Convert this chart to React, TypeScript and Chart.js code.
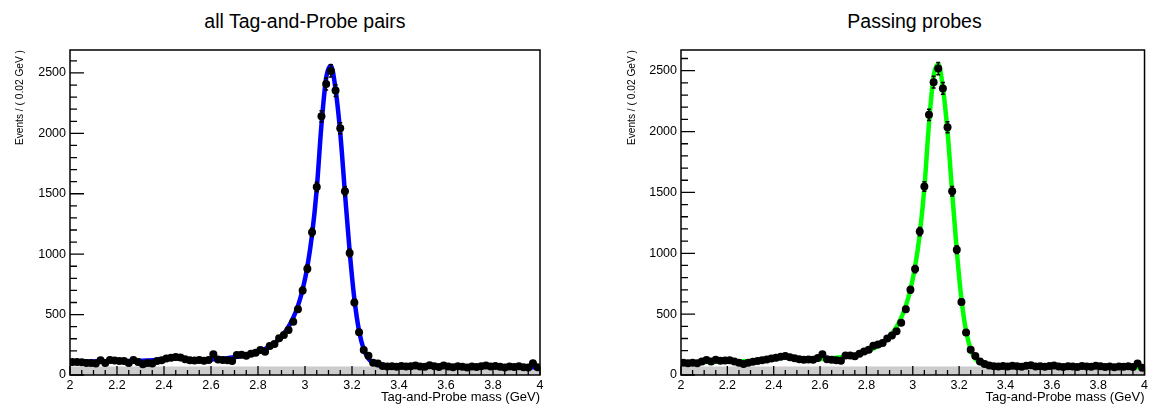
import React, { useEffect, useRef } from "react";
import { Chart, registerables } from "chart.js";

Chart.register(...registerables);

const FONT = "'Liberation Sans', Arial, Helvetica, sans-serif";

// Bin centres (GeV), 0.02 GeV bins from 2 to 4
const massBins = [
  2.01, 2.03, 2.05, 2.07, 2.09, 2.11, 2.13, 2.15, 2.17, 2.19,
  2.21, 2.23, 2.25, 2.27, 2.29, 2.31, 2.33, 2.35, 2.37, 2.39,
  2.41, 2.43, 2.45, 2.47, 2.49, 2.51, 2.53, 2.55, 2.57, 2.59,
  2.61, 2.63, 2.65, 2.67, 2.69, 2.71, 2.73, 2.75, 2.77, 2.79,
  2.81, 2.83, 2.85, 2.87, 2.89, 2.91, 2.93, 2.95, 2.97, 2.99,
  3.01, 3.03, 3.05, 3.07, 3.09, 3.11, 3.13, 3.15, 3.17, 3.19,
  3.21, 3.23, 3.25, 3.27, 3.29, 3.31, 3.33, 3.35, 3.37, 3.39,
  3.41, 3.43, 3.45, 3.47, 3.49, 3.51, 3.53, 3.55, 3.57, 3.59,
  3.61, 3.63, 3.65, 3.67, 3.69, 3.71, 3.73, 3.75, 3.77, 3.79,
  3.81, 3.83, 3.85, 3.87, 3.89, 3.91, 3.93, 3.95, 3.97, 3.99,
];

// Fit curve sample positions (edges + bin centres)
const fitMass = [2.0, ...massBins, 4.0];

const allPairsCounts = [
  108, 107, 105, 100, 100, 95, 122, 100, 125, 120,
  115, 115, 100, 125, 108, 90, 100, 95, 115, 122,
  137, 142, 150, 145, 130, 122, 120, 125, 118, 125,
  171, 128, 125, 122, 115, 165, 168, 160, 175, 185,
  207, 193, 240, 257, 304, 331, 372, 441, 545, 700,
  880, 1181, 1556, 2141, 2409, 2517, 2354, 2042, 1520, 1010,
  600, 353, 207, 160, 102, 95, 75, 70, 72, 68,
  75, 70, 72, 78, 70, 68, 80, 72, 66, 78,
  70, 65, 72, 68, 62, 70, 66, 72, 78, 70,
  75, 68, 62, 70, 66, 72, 65, 62, 98, 65,
];

const allPairsFit = [
  110,
  110, 111, 111, 112, 112, 113, 113, 114, 114, 115,
  115, 115, 116, 116, 117, 118, 120, 122, 125, 129,
  133, 136, 137, 136, 133, 130, 128, 127, 127, 128,
  130, 132, 135, 139, 144, 150, 157, 165, 174, 185,
  199, 216, 238, 265, 299, 343, 400, 474, 572, 708,
  895, 1160, 1540, 2070, 2460, 2560, 2365, 2005, 1505, 1025,
  630, 365, 212, 135, 100, 85, 79, 77, 76, 75,
  75, 74, 74, 73, 73, 73, 72, 72, 72, 71,
  71, 71, 70, 70, 70, 69, 69, 69, 68, 68,
  68, 67, 67, 67, 66, 66, 66, 65, 65, 65,
  65,
];

const passingCounts = [
  100, 97, 100, 97, 110, 124, 110, 125, 118, 120,
  122, 110, 100, 91, 100, 108, 115, 122, 128, 135,
  142, 150, 157, 145, 138, 130, 125, 128, 125, 140,
  171, 130, 125, 122, 118, 160, 160, 155, 175, 193,
  207, 240, 250, 262, 300, 325, 360, 430, 540, 700,
  870, 1178, 1548, 2138, 2406, 2517, 2354, 2036, 1509, 1030,
  600, 350, 207, 157, 110, 90, 78, 72, 70, 74,
  70, 76, 72, 68, 75, 80, 70, 72, 68, 74,
  78, 70, 66, 72, 70, 65, 74, 70, 68, 76,
  72, 66, 70, 64, 70, 68, 72, 66, 95, 60,
];

const passingFit = [
  102,
  102, 103, 104, 105, 106, 107, 108, 109, 110, 111,
  111, 112, 112, 113, 114, 116, 118, 121, 125, 130,
  135, 139, 141, 140, 137, 133, 130, 129, 129, 130,
  132, 134, 137, 141, 146, 152, 158, 166, 175, 186,
  200, 217, 238, 264, 297, 340, 396, 470, 568, 703,
  890, 1155, 1535, 2065, 2455, 2555, 2360, 2000, 1500, 1020,
  625, 362, 210, 134, 99, 84, 78, 76, 75, 74,
  74, 73, 73, 73, 72, 72, 72, 71, 71, 71,
  70, 70, 70, 69, 69, 69, 68, 68, 68, 67,
  67, 67, 66, 66, 66, 65, 65, 64, 64, 64,
  64,
];

// Shaded background band
const bandMass = [2.0, 4.0];
const allPairsBand = [70, 70];
const passingBand = [70, 70];

const xTickValues = [2, 2.2, 2.4, 2.6, 2.8, 3, 3.2, 3.4, 3.6, 3.8, 4];
const yTickValues = [0, 500, 1000, 1500, 2000, 2500];

type PanelProps = {
  left: number;
  width: number;
  title: string;
  counts: number[];
  fit: number[];
  band: number[];
  color: string;
  yMax: number;
  yAxisWidth: number;
  yTitlePad: number;
  padRight: number;
};

function Panel(p: PanelProps) {
  const ref = useRef<HTMLCanvasElement>(null);

  useEffect(() => {
    const canvas = ref.current!;
    const counts = p.counts;

    const errorBars = {
      id: "errorBars",
      afterDatasetsDraw(chart: any) {
        const { ctx, chartArea: a, scales } = chart;
        const xs = scales.x;
        const ys = scales.y;
        ctx.save();
        ctx.beginPath();
        ctx.rect(a.left, a.top, a.right - a.left, a.bottom - a.top);
        ctx.clip();
        ctx.strokeStyle = "#000";
        ctx.lineWidth = 1.5;
        counts.forEach((n, i) => {
          const e = Math.sqrt(n);
          const px = xs.getPixelForValue(massBins[i]);
          const top = ys.getPixelForValue(n + e);
          const bot = ys.getPixelForValue(n - e);
          ctx.beginPath();
          ctx.moveTo(px, top);
          ctx.lineTo(px, bot);
          ctx.moveTo(px - 2, top);
          ctx.lineTo(px + 2, top);
          ctx.moveTo(px - 2, bot);
          ctx.lineTo(px + 2, bot);
          ctx.stroke();
        });
        ctx.restore();
      },
    };

    const rootFrame = {
      id: "rootFrame",
      afterDraw(chart: any) {
        const { ctx, chartArea: a, scales } = chart;
        const xs = scales.x;
        const ys = scales.y;
        ctx.save();
        ctx.strokeStyle = "#000";
        ctx.lineWidth = 1.5;
        ctx.strokeRect(a.left, a.top, a.right - a.left, a.bottom - a.top);
        ctx.lineWidth = 1.3;
        ctx.beginPath();
        const xt = xTickValues;
        for (let i = 0; i < xt.length; i++) {
          const px = xs.getPixelForValue(xt[i]);
          ctx.moveTo(px, a.bottom);
          ctx.lineTo(px, a.bottom - 9);
          if (i < xt.length - 1) {
            for (let k = 1; k < 4; k++) {
              const q = xs.getPixelForValue(xt[i] + ((xt[i + 1] - xt[i]) * k) / 4);
              ctx.moveTo(q, a.bottom);
              ctx.lineTo(q, a.bottom - 5);
            }
          }
        }
        const yt = yTickValues;
        const step = (yt[1] - yt[0]) / 5;
        for (let i = 0; i < yt.length; i++) {
          const py = ys.getPixelForValue(yt[i]);
          ctx.moveTo(a.left, py);
          ctx.lineTo(a.left + 14, py);
          for (let k = 1; k < 5; k++) {
            const v = yt[i] + step * k;
            if (v >= ys.max) break;
            const q = ys.getPixelForValue(v);
            ctx.moveTo(a.left, q);
            ctx.lineTo(a.left + 7, q);
          }
        }
        ctx.stroke();
        ctx.restore();
      },
    };

    const chart = new Chart(canvas, {
      type: "scatter",
      data: {
        datasets: [
          {
            type: "scatter",
            label: "data",
            data: massBins.map((m, i) => ({ x: m, y: counts[i] })),
            pointRadius: 4,
            pointBackgroundColor: "#000",
            pointBorderColor: "#000",
            pointBorderWidth: 0,
            showLine: false,
            order: 0,
          } as any,
          {
            type: "line",
            label: "fit",
            data: fitMass.map((m, i) => ({ x: m, y: p.fit[i] })),
            borderColor: p.color,
            borderWidth: 4.5,
            pointRadius: 0,
            cubicInterpolationMode: "monotone",
            fill: false,
            order: 1,
          } as any,
          {
            type: "line",
            label: "background",
            data: bandMass.map((m, i) => ({ x: m, y: p.band[i] })),
            borderWidth: 0,
            borderColor: "rgba(0,0,0,0)",
            backgroundColor: "#cccccc",
            pointRadius: 0,
            fill: "origin",
            order: 2,
          } as any,
        ],
      },
      options: {
        responsive: false,
        animation: false,
        events: [],
        layout: {
          autoPadding: false,
          padding: { left: 0, right: p.padRight, top: 50, bottom: 0 },
        },
        plugins: {
          legend: { display: false },
          tooltip: { enabled: false },
          title: { display: false },
        },
        scales: {
          x: {
            type: "linear",
            min: 2,
            max: 4,
            afterBuildTicks: (s: any) => {
              s.ticks = xTickValues.map((v) => ({ value: v }));
            },
            afterFit: (s: any) => {
              s.height = 31;
            },
            grid: { display: false, drawTicks: false },
            border: { display: false },
            ticks: {
              autoSkip: false,
              maxRotation: 0,
              padding: 3,
              color: "#000",
              font: { family: FONT, size: 12.5 },
              callback: (v: any) => String(Math.round(Number(v) * 10) / 10),
            },
            title: {
              display: true,
              text: "Tag-and-Probe mass (GeV)",
              align: "end",
              color: "#000",
              font: { family: FONT, size: 13 },
              padding: { top: 0, bottom: 1 },
            },
          },
          y: {
            type: "linear",
            min: 0,
            max: p.yMax,
            afterBuildTicks: (s: any) => {
              s.ticks = yTickValues.map((v) => ({ value: v }));
            },
            afterFit: (s: any) => {
              s.width = p.yAxisWidth;
            },
            grid: { display: false, drawTicks: false },
            border: { display: false },
            ticks: {
              autoSkip: false,
              padding: 4,
              color: "#000",
              font: { family: FONT, size: 12.5 },
              callback: (v: any) => String(v),
            },
            title: {
              display: true,
              text: "Events / ( 0.02 GeV )",
              align: "end",
              color: "#000",
              font: { family: FONT, size: 10.2 },
              padding: { top: p.yTitlePad, bottom: 0 },
            },
          },
        },
      } as any,
      plugins: [errorBars, rootFrame],
    });

    return () => chart.destroy();
  }, []);

  return (
    <canvas
      ref={ref}
      width={p.width}
      height={406}
      style={{ position: "absolute", left: p.left, top: 0, width: p.width, height: 406 }}
    />
  );
}

function Title({ text, center }: { text: string; center: number }) {
  return (
    <div
      style={{
        position: "absolute",
        left: center - 200,
        width: 400,
        top: 12,
        textAlign: "center",
        fontFamily: FONT,
        fontSize: "19.5px",
        lineHeight: "19.5px",
        color: "#000",
        whiteSpace: "nowrap",
      }}
    >
      {text}
    </div>
  );
}

export default function App() {
  return (
    <div
      style={{
        position: "absolute",
        left: 0,
        top: 0,
        width: 1151,
        height: 406,
        overflow: "hidden",
        background: "#fff",
      }}
    >
      <Title text="all Tag-and-Probe pairs" center={305} />
      <Title text="Passing probes" center={914.5} />
      <Panel
        left={0}
        width={575}
        title="all Tag-and-Probe pairs"
        counts={allPairsCounts}
        fit={allPairsFit}
        band={allPairsBand}
        color="#0000ff"
        yMax={2690}
        yAxisWidth={70}
        yTitlePad={14.5}
        padRight={35}
      />
      <Panel
        left={610}
        width={541}
        title="Passing probes"
        counts={passingCounts}
        fit={passingFit}
        band={passingBand}
        color="#00ff00"
        yMax={2670}
        yAxisWidth={71}
        yTitlePad={16}
        padRight={3}
      />
    </div>
  );
}
